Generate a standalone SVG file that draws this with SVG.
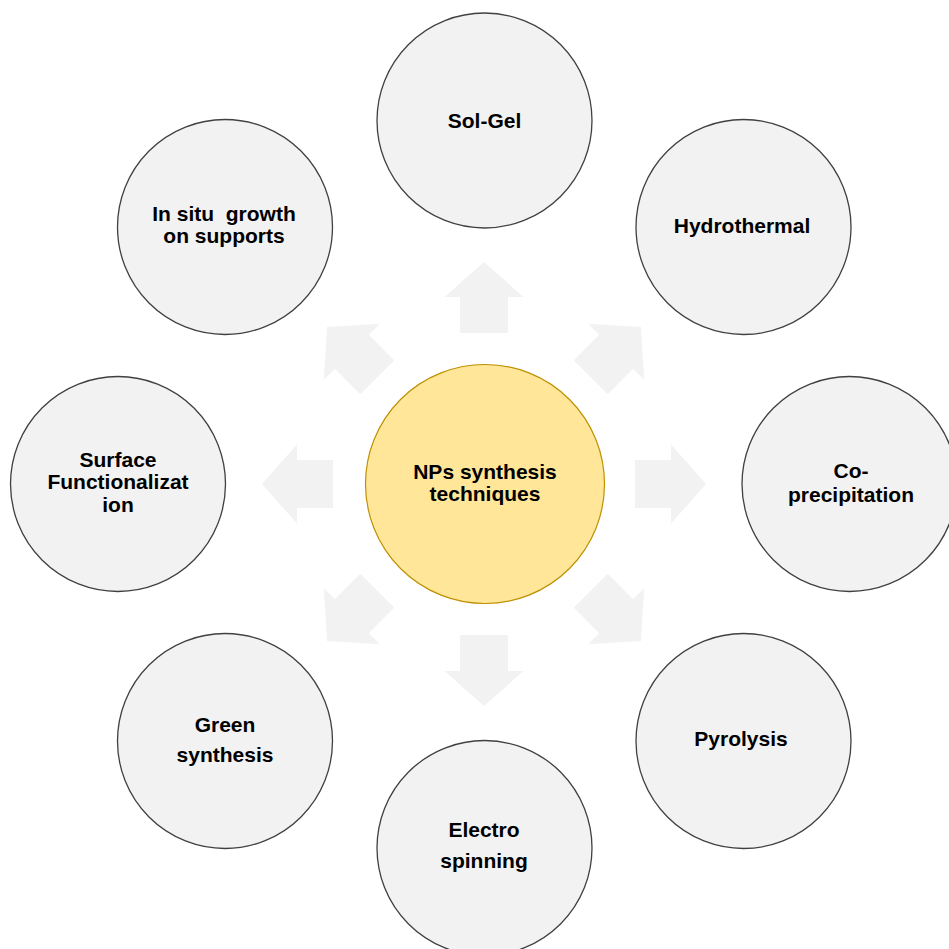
<svg xmlns="http://www.w3.org/2000/svg" width="949" height="949" viewBox="0 0 949 949">
  <style>
    .node { fill: #f2f2f2; stroke: #404040; stroke-width: 1.3; }
    .hub { fill: #ffe699; stroke: #bf9000; stroke-width: 1.2; }
    .label { font-family: "Liberation Sans", Arial, sans-serif; font-weight: bold; font-size: 21px; fill: #000; text-anchor: middle; }
    .arrow { fill: #f2f2f2; stroke: none; }
  </style>
  <defs>
    <!-- block arrow pointing up, origin at the hub centre -->
    <path id="blockArrow" d="M -24 -151 L -24 -187 L -39.5 -187 L 0 -222 L 39.5 -187 L 24 -187 L 24 -151 Z"/>
  </defs>
  <rect width="949" height="949" fill="#ffffff"/>

  <g id="connectors" class="arrow" transform="translate(484 484)">
    <use href="#blockArrow" transform="rotate(0)"/>
    <use href="#blockArrow" transform="rotate(45)"/>
    <use href="#blockArrow" transform="rotate(90)"/>
    <use href="#blockArrow" transform="rotate(135)"/>
    <use href="#blockArrow" transform="rotate(180)"/>
    <use href="#blockArrow" transform="rotate(225)"/>
    <use href="#blockArrow" transform="rotate(270)"/>
    <use href="#blockArrow" transform="rotate(315)"/>
  </g>

  <g id="hub">
    <circle class="hub" cx="485" cy="484" r="119.5"/>
    <text class="label" x="485" y="479">NPs synthesis</text>
    <text class="label" x="485" y="501">techniques</text>
  </g>

  <g id="sol-gel">
    <circle class="node" cx="484.5" cy="120.5" r="107.5"/>
    <text class="label" x="484.5" y="127.5">Sol-Gel</text>
  </g>

  <g id="hydrothermal">
    <circle class="node" cx="743.5" cy="227" r="107.5"/>
    <text class="label" x="742" y="233">Hydrothermal</text>
  </g>

  <g id="co-precipitation">
    <circle class="node" cx="849.5" cy="484" r="107.5"/>
    <text class="label" x="851" y="478">Co-</text>
    <text class="label" x="851" y="502">precipitation</text>
  </g>

  <g id="pyrolysis">
    <circle class="node" cx="743.5" cy="741" r="107.5"/>
    <text class="label" x="741" y="746">Pyrolysis</text>
  </g>

  <g id="electrospinning">
    <circle class="node" cx="484.5" cy="848" r="107.5"/>
    <text class="label" x="484" y="837">Electro</text>
    <text class="label" x="484" y="868">spinning</text>
  </g>

  <g id="green-synthesis">
    <circle class="node" cx="225" cy="741" r="107.5"/>
    <text class="label" x="225" y="732">Green</text>
    <text class="label" x="225" y="762">synthesis</text>
  </g>

  <g id="surface-functionalization">
    <circle class="node" cx="118" cy="484" r="107.5"/>
    <text class="label" x="118" y="467">Surface</text>
    <text class="label" x="118" y="489">Functionalizat</text>
    <text class="label" x="118" y="512">ion</text>
  </g>

  <g id="in-situ-growth">
    <circle class="node" cx="225" cy="227" r="107.5"/>
    <text class="label" x="224" y="221" xml:space="preserve">In situ  growth</text>
    <text class="label" x="224" y="243">on supports</text>
  </g>
</svg>
